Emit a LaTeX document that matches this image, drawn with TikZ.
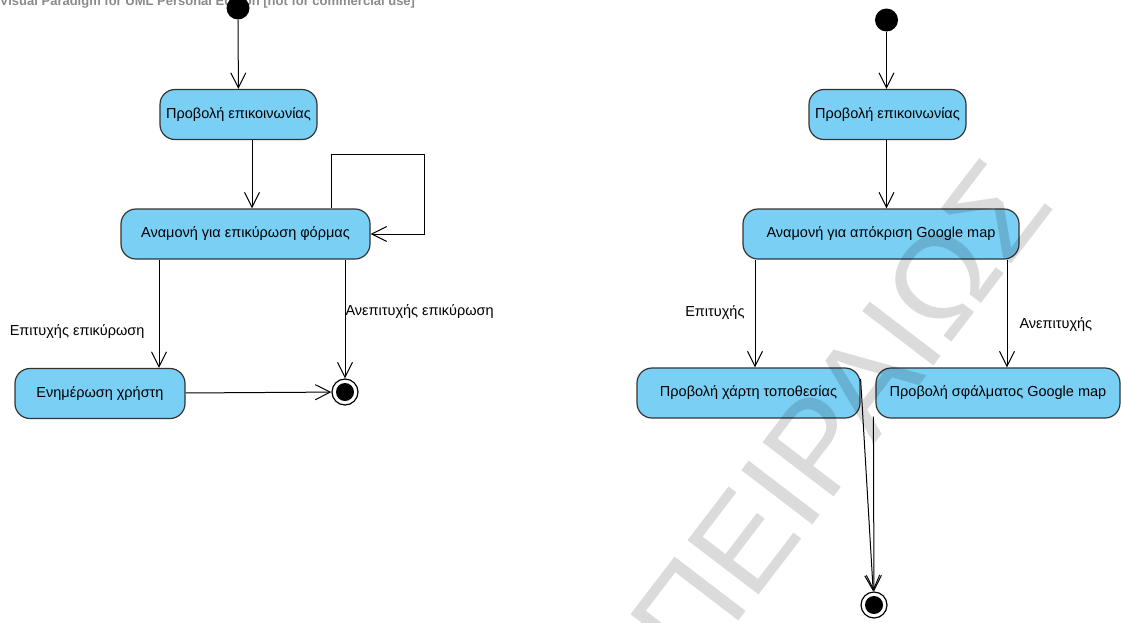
\documentclass[tikz,border=0pt]{standalone}
\usepackage{fontspec}
\usetikzlibrary{arrows.meta}
\newfontfamily\vpfont{Liberation Sans}
\definecolor{vpblue}{HTML}{7ACFF5}
\definecolor{vpgray}{HTML}{8A8A8A}
\begin{document}
\begin{tikzpicture}[x=1pt,y=-1pt, >={Straight Barb[length=15pt,width=15pt]}, line width=1pt,
  state/.style={rectangle, rounded corners=15pt, draw=black!80, line width=1.2pt, fill=vpblue, minimum height=50pt, inner sep=0pt, font=\vpfont\fontsize{14.5}{16}\selectfont},
  start/.style={circle, fill=black, minimum size=23pt, inner sep=0pt},
  stop/.style={circle, draw=black, line width=1.2pt, fill=white, minimum size=26pt, inner sep=0pt, path picture={\fill[black] (path picture bounding box.center) circle (9pt);}},
  lbl/.style={font=\vpfont\fontsize{14.5}{16}\selectfont, inner sep=0pt},
  wm/.style={font=\vpfont\fontsize{130}{130}\selectfont, opacity=0.14, rotate=52.6, inner sep=0pt}]
\useasboundingbox (0,0) rectangle (1121,622);
\node (vp) at (207.5,0) [anchor=base, font=\vpfont\bfseries\fontsize{13}{14}\selectfont, text=vpgray, yshift=-5pt] {Visual Paradigm for UML Personal Edition [not for commercial use]};
\node (s1) at (238,8) [start] {};
\node (p1) at (238.5,114.5) [state, minimum width=157pt] {Προβολή επικοινωνίας};
\node (a1) at (245.5,234) [state, minimum width=249pt] {Αναμονή για επικύρωση φόρμας};
\node (u1) at (100,393.5) [state, minimum width=170pt] {Ενημέρωση χρήστη};
\node (e1) at (345,392) [stop] {};
\coordinate (lp) at (424,154);
\draw[->] (s1) -- (p1);
\draw[->] ([xshift=13.5pt]p1.south) -- ([xshift=6.5pt]a1.north);
\draw[->] ([xshift=85.5pt]a1.north) |- (lp) |- (a1.east);
\draw[->] ([xshift=-86.5pt]a1.south) -- node[lbl, pos=0.66, left=14pt] {Επιτυχής επικύρωση} ([xshift=59pt]u1.north);
\draw[->] ([xshift=99.5pt]a1.south) -- node[lbl, pos=0.44, right=0pt] {Ανεπιτυχής επικύρωση} (e1);
\draw[->] (u1) -- (e1);
\node (s2) at (886.5,20) [start] {};
\node (p2) at (887.5,114.5) [state, minimum width=157pt] {Προβολή επικοινωνίας};
\node (a2) at (881,234) [state, minimum width=276pt] {Αναμονή για απόκριση Google map};
\node (m1) at (748.5,393) [state, minimum width=223pt] {Προβολή χάρτη τοποθεσίας};
\node (m2) at (998,393) [state, minimum width=244pt] {Προβολή σφάλματος Google map};
\node (e2) at (874,605) [stop] {};
\draw[->] (s2) -- (p2.north -| s2);
\draw[->] (p2.south -| s2) -- (a2.north -| s2);
\draw[->] ([xshift=-126pt]a2.south) -- node[lbl, pos=0.49, left=10pt] {Επιτυχής} ([xshift=6.5pt]m1.north);
\draw[->] ([xshift=126pt]a2.south) -- node[lbl, pos=0.6, right=12pt] {Ανεπιτυχής} ([xshift=9pt]m2.north);
\draw[->] ([yshift=14pt]m1.east) -- (e2);
\draw[->] ([xshift=-2pt,yshift=2pt]m2.south west) -- (e2);
\node (wm) at (840,414) [wm] {ΠΕΙΡΑΙΩΣ};
\end{tikzpicture}
\end{document}
